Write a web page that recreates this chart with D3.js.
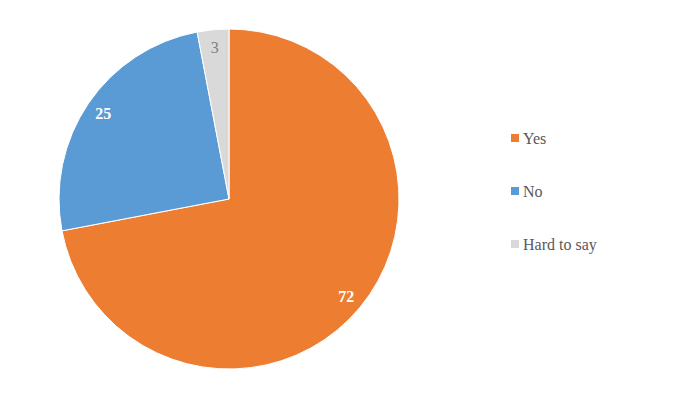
<!DOCTYPE html>
<html>
<head>
<meta charset="utf-8">
<script src="https://cdn.jsdelivr.net/npm/d3@7"></script>
<style>
  body { margin: 0; background: #fff; }
  text { font-family: "Liberation Serif", "DejaVu Serif", serif; }
</style>
</head>
<body>
<div id="chart"></div>
<script>
// answers and their shares (%)
const categories = ["Yes", "No", "Hard to say"];
const values = [72, 25, 3];
const colors = ["#ED7D31", "#5B9BD5", "#D9D9D9"];
const labelColors = ["#ffffff", "#ffffff", "#7f7f7f"];

const width = 700, height = 404;
const cx = 229, cy = 199, radius = 170;

const svg = d3.select("#chart")
  .append("svg")
    .attr("width", width)
    .attr("height", height);

const g = svg.append("g")
  .attr("transform", `translate(${cx},${cy})`);

const pie = d3.pie().sort(null).value(d => d.value);
const data = pie(categories.map((c, i) => ({ name: c, value: values[i], i: i })));

const arc = d3.arc().innerRadius(0).outerRadius(radius);
const labelArc = d3.arc().innerRadius(radius * 0.895).outerRadius(radius * 0.895);

g.selectAll("path")
  .data(data)
  .join("path")
    .attr("d", arc)
    .attr("fill", d => colors[d.data.i])
    .attr("stroke", "#fff")
    .attr("stroke-width", 1);

g.selectAll("text.val")
  .data(data)
  .join("text")
    .attr("class", "val")
    .attr("transform", d => `translate(${labelArc.centroid(d)})`)
    .attr("text-anchor", "middle")
    .attr("dy", "0.35em")
    .style("font-size", "16px")
    .style("font-weight", d => d.data.i < 2 ? "bold" : "normal")
    .attr("fill", d => labelColors[d.data.i])
    .text(d => d.data.value);

// legend
const legend = svg.append("g").attr("transform", "translate(511,138)");
const item = legend.selectAll("g")
  .data(categories)
  .join("g")
    .attr("transform", (d, i) => `translate(0,${i * 53})`);

item.append("rect")
  .attr("x", 0).attr("y", -4)
  .attr("width", 8).attr("height", 8)
  .attr("fill", (d, i) => colors[i]);

item.append("text")
  .attr("x", 12)
  .attr("dy", "0.35em")
  .style("font-size", "16px")
  .attr("fill", "#595959")
  .text(d => d);
</script>
</body>
</html>
